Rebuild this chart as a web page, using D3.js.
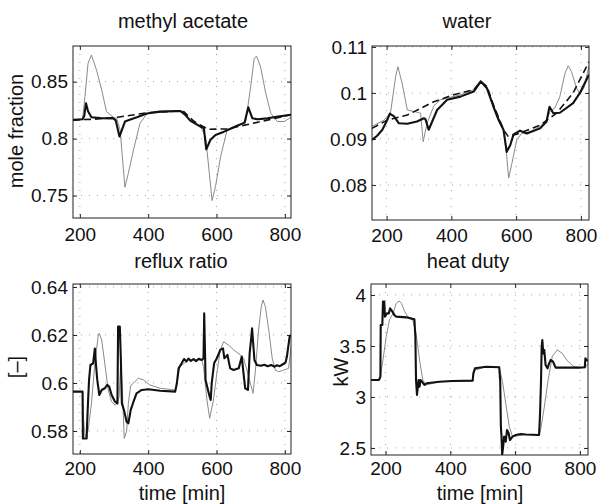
<!DOCTYPE html>
<html>
<head>
<meta charset="utf-8">
<script src="https://cdn.jsdelivr.net/npm/d3@7"></script>
<style>
  html, body { margin: 0; padding: 0; background: #fff; }
  svg { display: block; }
  text { font-family: "Liberation Sans", Arial, Helvetica, sans-serif; fill: #111; }
</style>
</head>
<body>
<svg id="chart" width="600" height="504"></svg>
<script>
// ---------------- DATA ----------------
const titles = ["methyl acetate", "water", "reflux ratio", "heat duty"];
const yLabels = ["mole fraction", "", "[\u2013]", "kW"];
const xLabel = "time [min]";
const xTicks = [200, 400, 600, 800];
const maTicks = [0.75, 0.8, 0.85];
const waTicks = [0.08, 0.09, 0.1, 0.11];
const rrTicks = [0.58, 0.6, 0.62, 0.64];
const hdTicks = [2.5, 3, 3.5, 4];

// methyl acetate
const maThickT = [180, 208, 213, 218, 224, 234, 260, 298, 305, 316, 332, 350, 367, 396, 435, 494, 509, 523, 553, 563, 570, 582, 597, 622, 651, 682, 693, 705, 720, 749, 785, 818];
const maThickV = [0.8164, 0.8170, 0.8200, 0.8310, 0.8240, 0.8187, 0.8180, 0.8178, 0.8160, 0.8018, 0.8150, 0.8170, 0.8187, 0.8220, 0.8237, 0.8243, 0.8208, 0.8158, 0.8105, 0.8090, 0.7906, 0.7988, 0.8032, 0.8061, 0.8100, 0.8140, 0.8275, 0.8178, 0.8170, 0.8178, 0.8195, 0.8210];
const maThinT = [180, 208, 215, 224, 234, 249, 264, 278, 298, 308, 318, 326, 332, 342, 357, 376, 396, 425, 494, 523, 553, 568, 578, 587, 597, 612, 631, 661, 685, 700, 710, 717, 729, 744, 759, 778, 798, 818];
const maThinV = [0.8164, 0.8170, 0.8370, 0.8660, 0.8734, 0.8600, 0.8427, 0.8237, 0.8187, 0.8178, 0.8076, 0.7784, 0.7573, 0.7696, 0.7900, 0.8135, 0.8216, 0.8240, 0.8243, 0.8158, 0.8105, 0.8018, 0.7725, 0.7456, 0.7579, 0.7842, 0.8076, 0.8120, 0.8140, 0.8456, 0.8700, 0.8725, 0.8630, 0.8400, 0.8222, 0.8150, 0.8150, 0.8187];
const maDashT = [180, 240, 310, 400, 495, 505, 520, 535, 575, 630, 700, 760, 818];
const maDashV = [0.8164, 0.8170, 0.8187, 0.8228, 0.8243, 0.8235, 0.8190, 0.8150, 0.8082, 0.8085, 0.8130, 0.8170, 0.8211];

// water
const waThickT = [155, 171, 187, 202, 210, 223, 238, 264, 294, 315, 320, 330, 356, 387, 428, 469, 491, 510, 530, 546, 561, 571, 582, 592, 612, 633, 674, 694, 703, 715, 735, 776, 797, 825];
const waThickV = [0.0898, 0.0907, 0.0920, 0.0941, 0.0955, 0.0949, 0.0934, 0.0933, 0.0938, 0.0945, 0.0943, 0.0920, 0.0963, 0.0985, 0.0992, 0.1003, 0.1025, 0.1010, 0.0970, 0.0941, 0.0920, 0.0872, 0.0887, 0.0910, 0.0918, 0.0912, 0.0923, 0.0938, 0.0970, 0.0956, 0.0957, 0.0978, 0.1000, 0.1040];
const waThinT = [155, 192, 212, 228, 235, 248, 264, 289, 305, 313, 325, 346, 366, 428, 469, 489, 510, 530, 551, 561, 571, 577, 587, 602, 617, 643, 674, 694, 705, 720, 735, 751, 761, 771, 787, 797, 810, 825];
const waThinV = [0.0927, 0.0941, 0.0956, 0.1036, 0.1057, 0.1021, 0.0963, 0.0959, 0.0956, 0.0894, 0.0934, 0.0972, 0.0985, 0.0996, 0.1007, 0.1027, 0.1014, 0.0972, 0.0938, 0.0920, 0.0862, 0.0815, 0.0847, 0.0898, 0.0912, 0.0916, 0.0927, 0.0941, 0.0960, 0.0968, 0.0992, 0.1043, 0.1059, 0.1046, 0.1010, 0.0998, 0.1012, 0.1060];
const waDashT = [155, 202, 264, 346, 407, 469, 487, 491, 510, 530, 561, 576, 609, 674, 725, 776, 825];
const waDashV = [0.0923, 0.0941, 0.0952, 0.0981, 0.0996, 0.1007, 0.1021, 0.1025, 0.1014, 0.0974, 0.0920, 0.0905, 0.0912, 0.0930, 0.0956, 0.1000, 0.1068];

// reflux ratio
const rrThickT = [180, 208, 209, 220, 221, 224, 227, 231, 239, 244, 247, 251, 257, 264, 273, 280, 286, 293, 303, 310, 312, 317, 320, 323, 329, 337, 342, 349, 357, 366, 381, 401, 435, 479, 484, 489, 498, 505, 512, 518, 525, 533, 540, 548, 557, 562, 564, 568, 575, 580, 583, 586, 593, 601, 611, 619, 623, 628, 632, 640, 650, 665, 674, 679, 684, 692, 697, 702, 704, 707, 711, 718, 730, 740, 750, 760, 770, 777, 785, 792, 802, 806, 814, 818];
const rrThickV = [0.5964, 0.5964, 0.5769, 0.5769, 0.5818, 0.5922, 0.6013, 0.6075, 0.6082, 0.6144, 0.6082, 0.6013, 0.5950, 0.5971, 0.5978, 0.5992, 0.5985, 0.5950, 0.5922, 0.5915, 0.6235, 0.6235, 0.6103, 0.5915, 0.5888, 0.5839, 0.5832, 0.5888, 0.5922, 0.5957, 0.5971, 0.5974, 0.5968, 0.5964, 0.5999, 0.6061, 0.6082, 0.6100, 0.6090, 0.6102, 0.6092, 0.6100, 0.6091, 0.6101, 0.6096, 0.6103, 0.6290, 0.6013, 0.5971, 0.5943, 0.5929, 0.5999, 0.6082, 0.6103, 0.6138, 0.6144, 0.6103, 0.6110, 0.6117, 0.6061, 0.6054, 0.6061, 0.6110, 0.6040, 0.5978, 0.5971, 0.6124, 0.6193, 0.6228, 0.6172, 0.6096, 0.6075, 0.6072, 0.6076, 0.6070, 0.6075, 0.6068, 0.6074, 0.6070, 0.6076, 0.6085, 0.6110, 0.6193, 0.6200];
const rrThinT = [180, 208, 211, 215, 224, 234, 244, 254, 257, 264, 273, 283, 293, 303, 310, 315, 320, 325, 330, 337, 342, 349, 357, 371, 386, 405, 435, 479, 484, 493, 518, 557, 562, 572, 580, 591, 601, 611, 621, 635, 650, 670, 679, 689, 699, 707, 714, 723, 731, 736, 743, 753, 763, 772, 782, 797, 811, 818];
const rrThinV = [0.5964, 0.5964, 0.5850, 0.5776, 0.5800, 0.5915, 0.6082, 0.6200, 0.6207, 0.6179, 0.6082, 0.5971, 0.5922, 0.5908, 0.5915, 0.5943, 0.6100, 0.5950, 0.5769, 0.5800, 0.5915, 0.5990, 0.5999, 0.6020, 0.6013, 0.5992, 0.5978, 0.5971, 0.5999, 0.6068, 0.6096, 0.6096, 0.6068, 0.5929, 0.5853, 0.5929, 0.6040, 0.6138, 0.6172, 0.6158, 0.6138, 0.6117, 0.6103, 0.6054, 0.5999, 0.5957, 0.6054, 0.6220, 0.6318, 0.6346, 0.6318, 0.6220, 0.6103, 0.6054, 0.6047, 0.6054, 0.6061, 0.6150];

// heat duty
const hdThickT = [155, 180, 184, 185, 190, 192, 196, 198, 204, 210, 214, 221, 228, 233, 264, 289, 292, 294, 297, 302, 305, 308, 320, 327, 366, 407, 469, 471, 476, 510, 551, 554, 556, 558, 560, 563, 566, 571, 575, 580, 584, 592, 602, 617, 633, 674, 677, 680, 682, 684, 687, 690, 694, 700, 705, 710, 717, 725, 741, 766, 797, 815, 817, 825];
const hdThickV = [3.167, 3.167, 3.199, 3.706, 3.706, 3.935, 3.935, 3.788, 3.820, 3.820, 3.869, 3.837, 3.800, 3.788, 3.781, 3.761, 3.592, 3.167, 3.020, 3.167, 3.101, 3.167, 3.118, 3.134, 3.150, 3.157, 3.160, 3.232, 3.281, 3.297, 3.291, 3.150, 2.709, 2.611, 2.431, 2.513, 2.611, 2.562, 2.676, 2.644, 2.578, 2.611, 2.627, 2.637, 2.632, 2.627, 2.840, 3.167, 3.493, 3.559, 3.428, 3.461, 3.314, 3.281, 3.330, 3.363, 3.346, 3.288, 3.288, 3.288, 3.288, 3.291, 3.379, 3.350];
const hdThinT = [155, 180, 184, 192, 202, 212, 223, 233, 242, 249, 259, 269, 284, 294, 305, 315, 325, 346, 366, 407, 469, 474, 510, 551, 561, 571, 582, 592, 633, 674, 680, 690, 702, 715, 730, 745, 760, 780, 800, 817, 825];
const hdThinV = [3.167, 3.167, 3.199, 3.363, 3.592, 3.755, 3.820, 3.918, 3.941, 3.918, 3.837, 3.788, 3.755, 3.624, 3.363, 3.167, 3.118, 3.134, 3.150, 3.157, 3.160, 3.260, 3.297, 3.291, 3.150, 2.938, 2.709, 2.611, 2.632, 2.627, 2.700, 2.900, 3.170, 3.400, 3.461, 3.430, 3.360, 3.300, 3.288, 3.288, 3.330];

// ---------------- LAYOUT ----------------
const zip = (t, v) => t.map((d, i) => ({ t: d, v: v[i] }));
const panels = [
  { box: [73, 291, 46, 218], xd: [180, 818], yd: [0.7303, 0.8813], yt: maTicks, title: titles[0], tx: 183, ty: 28, yl: yLabels[0], ylx: 23, yly: 131, xl: false, pad: 10,
    series: [ { d: zip(maThinT, maThinV), k: "thin" }, { d: zip(maDashT, maDashV), k: "dash" }, { d: zip(maThickT, maThickV), k: "thick" } ] },
  { box: [372, 589, 46, 220], xd: [155, 825], yd: [0.07239, 0.1102], yt: waTicks, title: titles[1], tx: 467, ty: 28, yl: yLabels[1], xl: false, pad: 9,
    series: [ { d: zip(waThinT, waThinV), k: "thin" }, { d: zip(waDashT, waDashV), k: "dash" }, { d: zip(waThickT, waThickV), k: "thick" } ] },
  { box: [73, 291, 284, 454], xd: [180, 818], yd: [0.57042, 0.64125], yt: rrTicks, title: titles[2], tx: 181, ty: 268, yl: yLabels[2], ylx: 23, yly: 367, xl: true, xlx: 182, pad: 8,
    series: [ { d: zip(rrThinT, rrThinV), k: "thin" }, { d: zip(rrThickT, rrThickV), k: "thick" } ] },
  { box: [371, 588, 284, 455], xd: [155, 825], yd: [2.431, 4.108], yt: hdTicks, title: titles[3], tx: 468, ty: 268, yl: yLabels[3], ylx: 348, yly: 372, xl: true, xlx: 480, pad: 7,
    series: [ { d: zip(hdThinT, hdThinV), k: "thin" }, { d: zip(hdThickT, hdThickV), k: "thick" } ] }
];

const styles = {
  thin:  { stroke: "#8a8a8a", w: 1.0, dash: null },
  dash:  { stroke: "#111", w: 1.6, dash: "7,4" },
  thick: { stroke: "#111", w: 2.1, dash: null }
};

const svg = d3.select("#chart");
const defs = svg.append("defs");

panels.forEach((p, i) => {
  const [L, R, T, B] = p.box;
  const x = d3.scaleLinear().domain(p.xd).range([L, R]);
  const y = d3.scaleLinear().domain(p.yd).range([B, T]);
  const g = svg.append("g");

  defs.append("clipPath").attr("id", "clip" + i)
    .append("rect").attr("x", L).attr("y", T).attr("width", R - L).attr("height", B - T);

  // grid
  const grid = g.append("g").attr("stroke", "#9a9a9a").attr("stroke-width", 0.9).attr("stroke-dasharray", "1,7");
  xTicks.forEach(t => grid.append("line").attr("x1", x(t)).attr("x2", x(t)).attr("y1", T).attr("y2", B));
  p.yt.forEach(v => grid.append("line").attr("x1", L).attr("x2", R).attr("y1", y(v)).attr("y2", y(v)));

  // axes (ticks inward)
  const xa = g.append("g").attr("transform", `translate(0,${B})`)
    .call(d3.axisBottom(x).tickValues(xTicks).tickSizeInner(-4).tickSizeOuter(0).tickPadding(p.pad).tickFormat(d3.format("d")));
  const ya = g.append("g").attr("transform", `translate(${L},0)`)
    .call(d3.axisLeft(y).tickValues(p.yt).tickSizeInner(-4).tickSizeOuter(0).tickPadding(5).tickFormat(d => String(+d.toFixed(3))));
  g.append("g").attr("transform", `translate(0,${T})`)
    .call(d3.axisTop(x).tickValues(xTicks).tickSizeInner(-4).tickSizeOuter(0).tickFormat(""));
  g.append("g").attr("transform", `translate(${R},0)`)
    .call(d3.axisRight(y).tickValues(p.yt).tickSizeInner(-4).tickSizeOuter(0).tickFormat(""));
  g.selectAll(".domain").remove();
  g.selectAll(".tick line").attr("stroke", "#222").attr("stroke-width", 1);
  xa.selectAll("text").attr("font-size", 19).attr("fill", "#111").style("font-family", "Liberation Sans, Arial, sans-serif");
  ya.selectAll("text").attr("font-size", 19).attr("fill", "#111").style("font-family", "Liberation Sans, Arial, sans-serif");

  // series
  const line = d3.line().x(d => x(d.t)).y(d => y(d.v));
  const sg = g.append("g").attr("clip-path", `url(#clip${i})`);
  p.series.forEach(s => {
    const st = styles[s.k];
    sg.append("path").datum(s.d).attr("d", line)
      .attr("fill", "none").attr("stroke", st.stroke).attr("stroke-width", st.w)
      .attr("stroke-linejoin", "round")
      .attr("stroke-dasharray", st.dash);
  });

  // box
  g.append("rect").attr("x", L).attr("y", T).attr("width", R - L).attr("height", B - T)
    .attr("fill", "none").attr("stroke", "#222").attr("stroke-width", 1);

  svg.append("text").attr("x", p.tx).attr("y", p.ty).attr("text-anchor", "middle")
    .attr("font-size", 20).text(p.title);
  if (p.yl) {
    svg.append("text").attr("transform", `translate(${p.ylx},${p.yly}) rotate(-90)`)
      .attr("text-anchor", "middle").attr("font-size", 20).text(p.yl);
  }
  if (p.xl) {
    svg.append("text").attr("x", p.xlx).attr("y", 500).attr("text-anchor", "middle")
      .attr("font-size", 20).text(xLabel);
  }
});
</script>
</body>
</html>
